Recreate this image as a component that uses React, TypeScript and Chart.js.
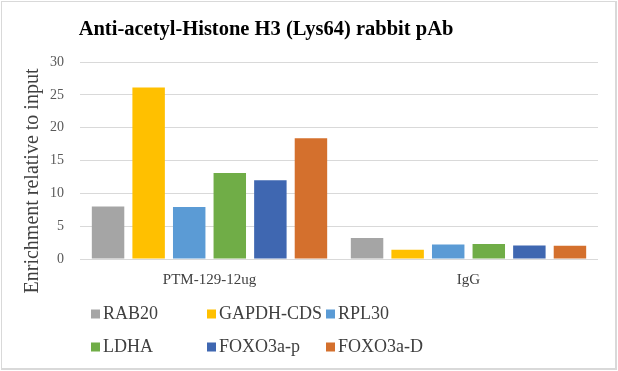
import React, { useEffect, useRef } from "react";
import { Chart, registerables } from "chart.js";

Chart.register(...registerables);

const chartTitle = "Anti-acetyl-Histone H3 (Lys64) rabbit pAb";
const yAxisTitle = "Enrichment relative to input";
const categories = ["PTM-129-12ug", "IgG"];
const seriesNames = ["RAB20", "GAPDH-CDS", "RPL30", "LDHA", "FOXO3a-p", "FOXO3a-D"];
const rab20 = [8.0, 3.2];
const gapdhCds = [26.1, 1.4];
const rpl30 = [7.9, 2.2];
const ldha = [13.1, 2.3];
const foxo3aP = [12.0, 2.05];
const foxo3aD = [18.4, 2.0];
const seriesValues = [rab20, gapdhCds, rpl30, ldha, foxo3aP, foxo3aD];
const seriesColors = ["#A5A5A5", "#FFC000", "#5B9BD5", "#70AD47", "#3F67B1", "#D4702D"];
const yMin = 0;
const yMax = 30;
const yStep = 5;

const FONT = "'Liberation Serif', 'Times New Roman', serif";

const decorPlugin = {
  id: "decor",
  afterDraw(chart: any) {
    const ctx = chart.ctx as CanvasRenderingContext2D;
    ctx.save();
    // Title
    ctx.fillStyle = "#000000";
    ctx.font = `bold 20.5px ${FONT}`;
    ctx.textAlign = "center";
    ctx.textBaseline = "alphabetic";
    ctx.fillText(chartTitle, 266, 35);

    // Y axis title
    ctx.save();
    ctx.translate(33, 181);
    ctx.rotate(-Math.PI / 2);
    ctx.fillStyle = "#404040";
    ctx.font = `20px ${FONT}`;
    ctx.textAlign = "center";
    ctx.textBaseline = "middle";
    ctx.fillText(yAxisTitle, 0, 0);
    ctx.restore();

    // Legend in grid
    const colX = [91, 207, 326];
    const rowY = [314, 347];
    ctx.font = `18px ${FONT}`;
    ctx.textAlign = "left";
    ctx.textBaseline = "middle";
    chart.data.datasets.forEach((ds: any, i: number) => {
      const c = i % 3;
      const r = Math.floor(i / 3);
      const x = colX[c];
      const y = rowY[r];
      ctx.fillStyle = ds.backgroundColor;
      ctx.fillRect(x, y - 4.5, 9, 9);
      ctx.fillStyle = "#404040";
      ctx.fillText(ds.label, x + 12, y);
    });
    ctx.restore();
  },
};

export default function App() {
  const ref = useRef<HTMLCanvasElement>(null);
  useEffect(() => {
    document.body.style.margin = "0";
    if (!ref.current) return;
    const chart = new Chart(ref.current, {
      type: "bar",
      data: {
        labels: categories,
        datasets: seriesNames.map((name, i) => ({
          label: name,
          data: seriesValues[i],
          backgroundColor: seriesColors[i],
          borderWidth: 0,
          categoryPercentage: 0.94,
          barPercentage: 0.8,
        })),
      },
      options: {
        responsive: false,
        animation: false,
        layout: { padding: { top: 62, right: 20, bottom: 0, left: 0 } },
        plugins: {
          legend: { display: false },
          title: { display: false },
          tooltip: { enabled: false },
        },
        scales: {
          x: {
            grid: { display: false, drawTicks: false },
            border: { display: false },
            ticks: {
              color: "#404040",
              font: { family: FONT, size: 15 },
              padding: 12,
            },
            afterFit: (s: any) => {
              s.height = 112;
            },
          },
          y: {
            min: yMin,
            max: yMax,
            grid: { color: "#D9D9D9", lineWidth: 1, drawTicks: false },
            border: { display: false },
            ticks: {
              stepSize: yStep,
              color: "#595959",
              font: { family: FONT, size: 14 },
              padding: 16,
            },
            afterFit: (s: any) => {
              s.width = 80;
            },
          },
        },
      },
      plugins: [decorPlugin],
    });
    return () => chart.destroy();
  }, []);
  return (
    <div style={{ position: "absolute", left: 0, top: 0, width: 618, height: 371, background: "#fff" }}>
      <canvas ref={ref} width={618} height={371} style={{ display: "block" }} />
      <div
        style={{
          position: "absolute",
          left: 1,
          top: 1,
          right: 1,
          bottom: 1,
          borderStyle: "solid",
          borderColor: "#D9D9D9",
          borderWidth: "1px 2px 2px 1px",
          pointerEvents: "none",
        }}
      />
    </div>
  );
}
